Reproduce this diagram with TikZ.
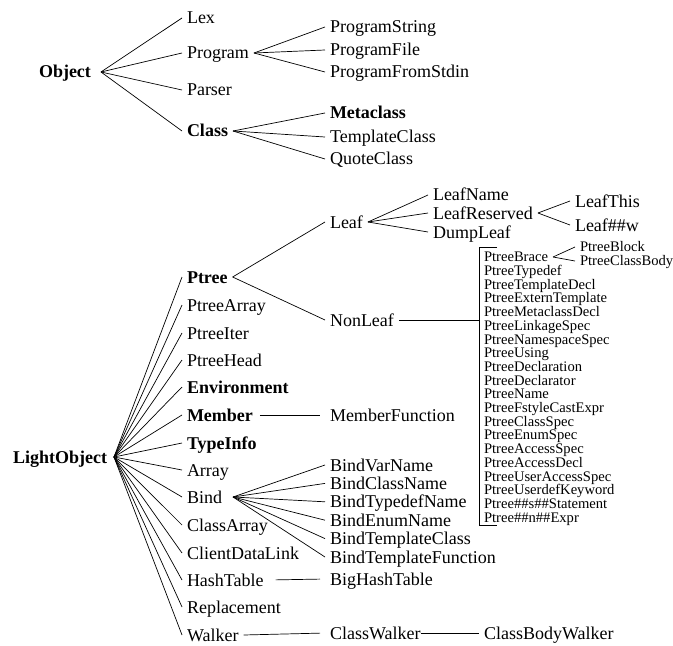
\documentclass[tikz,border=0pt]{standalone}
\usepackage{fontspec}
\setmainfont{Liberation Serif}
\newcommand\fbig{\fontsize{18bp}{20bp}\selectfont}
\newcommand\fsmall{\fontsize{14.6bp}{16bp}\selectfont}
\begin{document}
\begin{tikzpicture}[x=1bp,y=-1bp,
  lbl/.style={anchor=west, inner xsep=5bp, inner ysep=0pt, outer sep=0pt, font=\fbig, text height=12bp, text depth=0pt},
  bld/.style={lbl, font=\fbig\bfseries},
  sml/.style={lbl, font=\fsmall, text height=9.6bp},
  conn/.style={draw=black, line width=0.7bp}]
\useasboundingbox (0,0) rectangle (673,646);
% ---------- Object tree ----------
\node[bld, inner xsep=10bp] (object) at (29,72) {Object};
\node[lbl] (lex) at (182,18) {Lex};
\node[lbl] (program) at (182,53) {Program};
\node[lbl] (parser) at (182,90) {Parser};
\node[bld] (class) at (182,131) {Class};
\node[lbl] (pstring) at (325,27) {ProgramString};
\node[lbl] (pfile) at (325,50) {ProgramFile};
\node[lbl] (pstdin) at (325,72) {ProgramFromStdin};
\node[bld] (metaclass) at (325,113) {Metaclass};
\node[lbl] (tclass) at (325,137) {TemplateClass};
\node[lbl] (qclass) at (325,159) {QuoteClass};
\foreach \c in {lex,program,parser,class} \draw[conn] (object.east) -- (\c.west);
\foreach \c in {pstring,pfile,pstdin} \draw[conn] (program.east) -- (\c.west);
\foreach \c in {metaclass,tclass,qclass} \draw[conn] (class.east) -- (\c.west);
% ---------- LightObject tree ----------
\node[bld, inner xsep=7bp] (light) at (6,457) {LightObject};
\node[bld] (ptree) at (182,277) {Ptree};
\node[lbl] (ptreearray) at (182,305) {PtreeArray};
\node[lbl] (ptreeiter) at (182,333) {PtreeIter};
\node[lbl] (ptreehead) at (182,360) {PtreeHead};
\node[bld] (environment) at (182,387) {Environment};
\node[bld] (member) at (182,415) {Member};
\node[bld] (typeinfo) at (182,443) {TypeInfo};
\node[lbl] (array) at (182,470) {Array};
\node[lbl] (bind) at (182,497) {Bind};
\node[lbl] (classarray) at (182,525) {ClassArray};
\node[lbl] (clientdatalink) at (182,553) {ClientDataLink};
\node[lbl] (hashtable) at (182,580) {HashTable};
\node[lbl] (replacement) at (182,607) {Replacement};
\node[lbl] (walker) at (182,635) {Walker};
\foreach \c in {ptree,ptreearray,ptreeiter,ptreehead,environment,member,typeinfo,array,bind,classarray,clientdatalink,hashtable,replacement,walker}
  \draw[conn] (light.east) -- (\c.west);
% Ptree subtree
\node[lbl] (leaf) at (325,222) {Leaf};
\node[lbl] (nonleaf) at (325,320) {NonLeaf};
\draw[conn] (ptree.east) -- (leaf.west);
\draw[conn] (ptree.east) -- (nonleaf.west);
\node[lbl] (leafname) at (428,195) {LeafName};
\node[lbl] (leafreserved) at (428,213) {LeafReserved};
\node[lbl] (dumpleaf) at (428,232) {DumpLeaf};
\foreach \c in {leafname,leafreserved,dumpleaf} \draw[conn] (leaf.east) -- (\c.west);
\node[lbl] (leafthis) at (570,201) {LeafThis};
\node[lbl] (leafw) at (570,225) {Leaf\#\#w};
\draw[conn] (leafreserved.east) -- (leafthis.west);
\draw[conn] (leafreserved.east) -- (leafw.west);
% bracket of NonLeaf subclasses
\coordinate (btop) at (497,247);
\coordinate (bbot) at (497,525);
\coordinate (brk) at (479,320);
\draw[conn] (btop) -- (brk |- btop) -- (brk |- bbot) -- (bbot);
\draw[conn] (nonleaf.east) -- (brk);
\foreach \t [count=\i from 0] in {PtreeBrace,PtreeTypedef,PtreeTemplateDecl,PtreeExternTemplate,PtreeMetaclassDecl,PtreeLinkageSpec,PtreeNamespaceSpec,PtreeUsing,PtreeDeclaration,PtreeDeclarator,PtreeName,PtreeFstyleCastExpr,PtreeClassSpec,PtreeEnumSpec,PtreeAccessSpec,PtreeAccessDecl,PtreeUserAccessSpec,PtreeUserdefKeyword,Ptree\#\#s\#\#Statement,Ptree\#\#n\#\#Expr}
  \node[sml] (p\i) at ({479},{257+13.7*\i}) {\t};
\node[sml] (ptreeblock) at (575,247) {PtreeBlock};
\node[sml] (ptreeclassbody) at (575,261) {PtreeClassBody};
\draw[conn] (p0.east) -- (ptreeblock.west);
\draw[conn] (p0.east) -- (ptreeclassbody.west);
% Member
\node[lbl] (memberfunction) at (325,415) {MemberFunction};
\draw[conn, shorten <=2bp, shorten >=5bp] (member.east) -- (memberfunction.west);
% Bind
\foreach \t/\n [count=\i from 0] in {BindVarName/bvn,BindClassName/bcn,BindTypedefName/btn,BindEnumName/ben,BindTemplateClass/btc,BindTemplateFunction/btf}
  \node[lbl] (\n) at ({325},{465+18.4*\i}) {\t};
\foreach \n in {bvn,bcn,btn,ben,btc,btf} \draw[conn] ([xshift=6bp]bind.east) -- (\n.west);
% HashTable
\node[lbl] (bighashtable) at (325,579) {BigHashTable};
\draw[conn, shorten <=7bp, shorten >=5bp] (hashtable.east) -- (bighashtable.west);
% Walker
\node[lbl] (classwalker) at (325,633) {ClassWalker};
\node[lbl] (classbodywalker) at (479,633) {ClassBodyWalker};
\draw[conn, shorten >=5bp] (walker.east) -- (classwalker.west);
\draw[conn, shorten <=-5bp] (classwalker.east) -- (classbodywalker.west);
\end{tikzpicture}
\end{document}
